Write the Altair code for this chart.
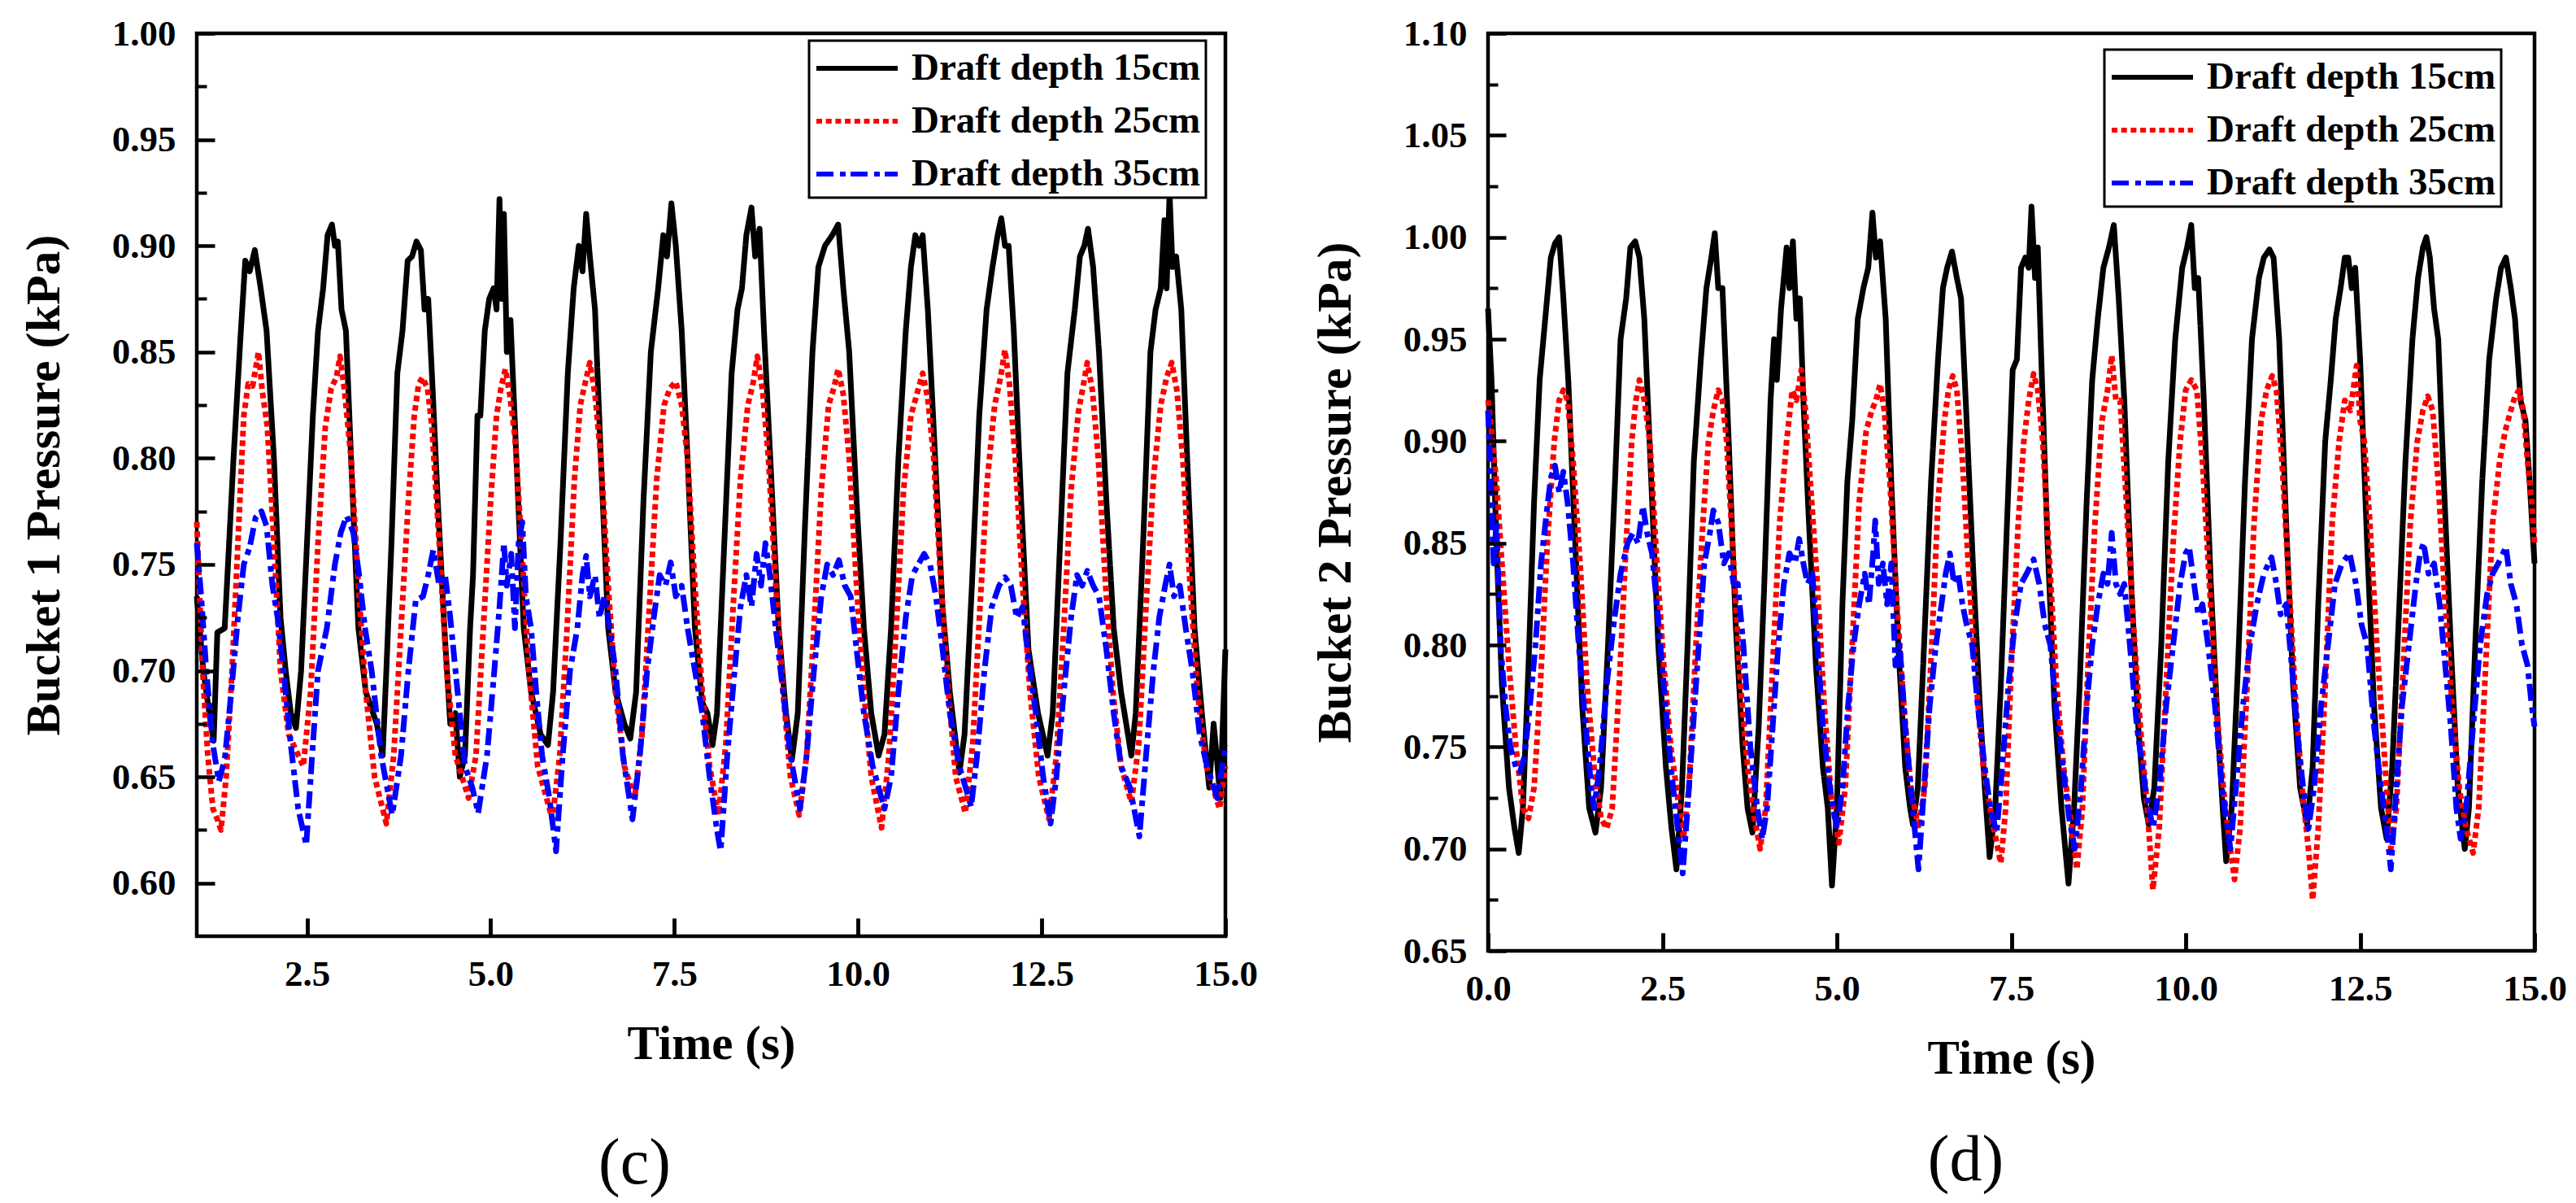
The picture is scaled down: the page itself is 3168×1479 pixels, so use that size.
import pandas as pd
import altair as alt

FONT = "Liberation Serif"
SERIES = ["Draft depth 15cm", "Draft depth 25cm", "Draft depth 35cm"]
COLORS = ["#000000", "#ff0000", "#0000ff"]
DASHES = [[1, 0], [7, 4.7], [21, 8, 7, 6]]

# (c) Bucket 1 pressure, (time s, kPa)
b1_d15 = [
    (1.00, 0.735), (1.09, 0.700), (1.17, 0.680), (1.23, 0.667), (1.28, 0.718), (1.38, 0.720),
    (1.50, 0.800), (1.60, 0.860), (1.66, 0.893), (1.72, 0.888), (1.79, 0.898), (1.87, 0.880),
    (1.95, 0.860), (2.05, 0.800), (2.14, 0.725), (2.21, 0.700), (2.28, 0.680), (2.35, 0.673),
    (2.42, 0.700), (2.50, 0.760), (2.58, 0.820), (2.65, 0.860), (2.72, 0.880), (2.78, 0.905),
    (2.84, 0.910), (2.88, 0.900), (2.92, 0.902), (2.97, 0.870), (3.03, 0.860), (3.10, 0.800),
    (3.20, 0.720), (3.30, 0.690), (3.45, 0.675), (3.53, 0.660),
    (3.58, 0.700), (3.65, 0.760), (3.73, 0.840), (3.80, 0.860), (3.87, 0.893), (3.93, 0.895),
    (3.99, 0.902), (4.05, 0.898), (4.10, 0.870), (4.15, 0.875), (4.20, 0.840), (4.28, 0.780),
    (4.37, 0.720), (4.45, 0.675), (4.52, 0.680), (4.58, 0.650),
    (4.65, 0.660), (4.72, 0.720), (4.76, 0.745), (4.82, 0.820), (4.86, 0.820), (4.92, 0.860),
    (4.98, 0.875), (5.04, 0.880), (5.08, 0.870), (5.12, 0.922), (5.15, 0.875), (5.18, 0.915),
    (5.22, 0.850), (5.27, 0.865), (5.35, 0.800), (5.45, 0.720), (5.55, 0.690), (5.68, 0.670),
    (5.78, 0.665), (5.85, 0.690), (5.95, 0.760), (6.05, 0.840), (6.13, 0.880), (6.20, 0.900),
    (6.25, 0.888), (6.30, 0.915), (6.35, 0.895), (6.42, 0.870), (6.50, 0.800), (6.60, 0.720),
    (6.70, 0.690), (6.82, 0.675), (6.90, 0.668),
    (6.98, 0.690), (7.08, 0.780), (7.18, 0.850), (7.28, 0.880), (7.35, 0.905), (7.40, 0.895),
    (7.46, 0.920), (7.52, 0.900), (7.60, 0.860), (7.68, 0.800), (7.78, 0.720), (7.88, 0.685),
    (7.95, 0.680), (8.02, 0.665),
    (8.08, 0.680), (8.18, 0.760), (8.28, 0.840), (8.36, 0.870), (8.42, 0.880), (8.48, 0.905),
    (8.55, 0.918), (8.60, 0.895), (8.66, 0.908), (8.72, 0.860), (8.82, 0.790), (8.92, 0.720),
    (9.02, 0.680), (9.10, 0.658),
    (9.18, 0.680), (9.28, 0.770), (9.38, 0.850), (9.46, 0.890), (9.55, 0.900), (9.65, 0.905),
    (9.73, 0.910), (9.80, 0.880), (9.88, 0.850), (9.98, 0.780), (10.08, 0.720), (10.18, 0.680),
    (10.28, 0.660),
    (10.36, 0.670), (10.45, 0.720), (10.55, 0.800), (10.65, 0.860), (10.72, 0.890), (10.78, 0.905),
    (10.83, 0.900), (10.88, 0.905), (10.95, 0.870), (11.05, 0.800), (11.15, 0.730), (11.25, 0.690),
    (11.38, 0.652),
    (11.45, 0.670), (11.55, 0.740), (11.65, 0.820), (11.75, 0.870), (11.83, 0.890), (11.90, 0.905),
    (11.95, 0.913), (12.00, 0.900), (12.05, 0.900), (12.12, 0.860), (12.22, 0.780), (12.32, 0.710),
    (12.45, 0.680), (12.58, 0.660),
    (12.65, 0.680), (12.75, 0.760), (12.85, 0.840), (12.95, 0.870), (13.02, 0.895), (13.08, 0.900),
    (13.13, 0.908), (13.20, 0.890), (13.28, 0.850), (13.38, 0.780), (13.48, 0.720), (13.58, 0.690),
    (13.72, 0.660),
    (13.78, 0.680), (13.88, 0.760), (13.98, 0.850), (14.05, 0.870), (14.12, 0.880), (14.17, 0.912),
    (14.20, 0.880), (14.24, 0.925), (14.28, 0.890), (14.33, 0.895), (14.40, 0.870), (14.48, 0.800),
    (14.58, 0.720), (14.68, 0.680), (14.78, 0.645), (14.84, 0.675), (14.88, 0.660), (14.93, 0.640),
    (14.97, 0.680), (15.00, 0.710),
]
b1_d25 = [
    (1.00, 0.770), (1.08, 0.700), (1.15, 0.660), (1.22, 0.635), (1.28, 0.630), (1.33, 0.625),
    (1.40, 0.650), (1.48, 0.700), (1.56, 0.760), (1.64, 0.820), (1.70, 0.835), (1.76, 0.834),
    (1.84, 0.850), (1.89, 0.832), (1.96, 0.815), (2.05, 0.760), (2.14, 0.700), (2.25, 0.670),
    (2.45, 0.655),
    (2.55, 0.690), (2.65, 0.760), (2.75, 0.815), (2.83, 0.833), (2.90, 0.838), (2.95, 0.848),
    (3.01, 0.832), (3.10, 0.800), (3.20, 0.740), (3.30, 0.690), (3.42, 0.650), (3.58, 0.628),
    (3.68, 0.660), (3.78, 0.720), (3.88, 0.780), (3.96, 0.820), (4.02, 0.835), (4.07, 0.838),
    (4.14, 0.833), (4.20, 0.815), (4.30, 0.760), (4.40, 0.700), (4.52, 0.660), (4.70, 0.640),
    (4.80, 0.660), (4.90, 0.720), (5.00, 0.780), (5.08, 0.820), (5.14, 0.833), (5.20, 0.842),
    (5.26, 0.830), (5.33, 0.810), (5.42, 0.760), (5.52, 0.700), (5.64, 0.655), (5.84, 0.630),
    (5.94, 0.660), (6.04, 0.720), (6.14, 0.790), (6.22, 0.825), (6.29, 0.836), (6.35, 0.845),
    (6.42, 0.830), (6.50, 0.800), (6.60, 0.740), (6.70, 0.690), (6.82, 0.655), (6.96, 0.640),
    (7.06, 0.670), (7.16, 0.730), (7.26, 0.790), (7.36, 0.825), (7.44, 0.833), (7.52, 0.836),
    (7.60, 0.825), (7.68, 0.800), (7.78, 0.740), (7.88, 0.690), (7.98, 0.655), (8.10, 0.632),
    (8.20, 0.665), (8.30, 0.730), (8.40, 0.790), (8.50, 0.825), (8.57, 0.835), (8.63, 0.848),
    (8.70, 0.832), (8.78, 0.800), (8.88, 0.740), (8.98, 0.690), (9.08, 0.650), (9.20, 0.632),
    (9.30, 0.660), (9.40, 0.720), (9.50, 0.785), (9.60, 0.825), (9.67, 0.833), (9.73, 0.842),
    (9.80, 0.830), (9.88, 0.800), (9.98, 0.740), (10.08, 0.690), (10.18, 0.650), (10.32, 0.626),
    (10.42, 0.660), (10.52, 0.720), (10.62, 0.785), (10.72, 0.820), (10.80, 0.830), (10.88, 0.840),
    (10.95, 0.828), (11.03, 0.800), (11.13, 0.740), (11.23, 0.690), (11.33, 0.650), (11.46, 0.633),
    (11.56, 0.665), (11.66, 0.730), (11.76, 0.790), (11.86, 0.825), (11.94, 0.838), (12.00, 0.851),
    (12.06, 0.835), (12.14, 0.800), (12.24, 0.740), (12.34, 0.690), (12.46, 0.650), (12.60, 0.630),
    (12.70, 0.660), (12.80, 0.720), (12.90, 0.785), (13.00, 0.822), (13.07, 0.835), (13.12, 0.845),
    (13.19, 0.832), (13.27, 0.800), (13.37, 0.740), (13.47, 0.690), (13.58, 0.655), (13.72, 0.638),
    (13.82, 0.665), (13.92, 0.730), (14.02, 0.790), (14.12, 0.825), (14.20, 0.838), (14.27, 0.845),
    (14.34, 0.832), (14.42, 0.800), (14.52, 0.740), (14.62, 0.690), (14.74, 0.655), (14.92, 0.635),
    (15.00, 0.655),
]
b1_d35 = [
    (1.00, 0.760), (1.06, 0.735), (1.13, 0.700), (1.22, 0.665), (1.30, 0.648), (1.38, 0.658),
    (1.47, 0.690), (1.56, 0.725), (1.64, 0.750), (1.72, 0.758), (1.80, 0.772), (1.88, 0.775),
    (1.95, 0.768), (2.03, 0.740), (2.10, 0.725), (2.18, 0.700), (2.28, 0.665), (2.38, 0.635),
    (2.49, 0.618),
    (2.57, 0.660), (2.65, 0.700), (2.77, 0.720), (2.88, 0.750), (2.96, 0.765), (3.04, 0.773),
    (3.13, 0.765), (3.21, 0.745), (3.29, 0.720), (3.38, 0.700), (3.51, 0.660), (3.66, 0.632),
    (3.78, 0.660), (3.88, 0.700), (3.98, 0.733), (4.08, 0.735), (4.15, 0.745), (4.22, 0.757),
    (4.30, 0.740), (4.38, 0.745), (4.45, 0.725), (4.55, 0.690), (4.65, 0.655), (4.75, 0.645),
    (4.83, 0.633),
    (4.95, 0.660), (5.05, 0.700), (5.12, 0.730), (5.18, 0.760), (5.22, 0.740), (5.28, 0.755),
    (5.33, 0.720), (5.38, 0.760), (5.43, 0.770), (5.48, 0.735), (5.55, 0.720), (5.62, 0.690),
    (5.70, 0.660), (5.80, 0.640), (5.89, 0.615),
    (5.98, 0.660), (6.08, 0.700), (6.18, 0.720), (6.25, 0.745), (6.30, 0.754), (6.35, 0.735),
    (6.42, 0.745), (6.48, 0.725), (6.55, 0.735), (6.62, 0.720), (6.70, 0.700), (6.80, 0.660),
    (6.93, 0.630),
    (7.03, 0.660), (7.13, 0.700), (7.22, 0.725), (7.30, 0.745), (7.38, 0.740), (7.45, 0.751),
    (7.52, 0.735), (7.60, 0.740), (7.68, 0.720), (7.78, 0.700), (7.88, 0.680), (7.98, 0.650),
    (8.08, 0.625), (8.13, 0.615),
    (8.22, 0.660), (8.32, 0.700), (8.40, 0.730), (8.48, 0.745), (8.55, 0.730), (8.62, 0.755),
    (8.68, 0.740), (8.74, 0.760), (8.80, 0.745), (8.88, 0.720), (8.98, 0.690), (9.08, 0.660),
    (9.21, 0.635),
    (9.30, 0.660), (9.40, 0.700), (9.50, 0.735), (9.58, 0.750), (9.66, 0.745), (9.74, 0.752),
    (9.82, 0.740), (9.90, 0.735), (9.98, 0.710), (10.08, 0.680), (10.20, 0.655), (10.36, 0.635),
    (10.45, 0.650), (10.55, 0.690), (10.65, 0.725), (10.74, 0.745), (10.82, 0.750), (10.90, 0.755),
    (10.98, 0.750), (11.06, 0.735), (11.15, 0.710), (11.25, 0.680), (11.38, 0.655), (11.54, 0.636),
    (11.62, 0.660), (11.72, 0.700), (11.82, 0.730), (11.92, 0.740), (12.00, 0.744), (12.08, 0.740),
    (12.16, 0.725), (12.24, 0.730), (12.32, 0.705), (12.42, 0.680), (12.52, 0.650), (12.62, 0.628),
    (12.70, 0.650), (12.80, 0.690), (12.90, 0.725), (12.98, 0.745), (13.05, 0.740), (13.12, 0.747),
    (13.20, 0.740), (13.28, 0.735), (13.38, 0.710), (13.48, 0.680), (13.58, 0.655), (13.70, 0.645),
    (13.83, 0.622),
    (13.92, 0.660), (14.02, 0.700), (14.10, 0.725), (14.18, 0.740), (14.24, 0.750), (14.30, 0.735),
    (14.38, 0.740), (14.46, 0.720), (14.55, 0.700), (14.65, 0.670), (14.75, 0.655), (14.89, 0.640),
    (15.00, 0.665),
]

# (d) Bucket 2 pressure
b2_d15 = [
    (0.00, 0.965), (0.05, 0.930), (0.12, 0.850), (0.20, 0.780), (0.30, 0.730), (0.38, 0.710),
    (0.44, 0.698), (0.50, 0.720), (0.58, 0.790), (0.66, 0.870), (0.74, 0.930), (0.82, 0.960),
    (0.90, 0.990), (0.96, 0.997), (1.02, 1.000), (1.08, 0.970), (1.15, 0.930), (1.25, 0.850),
    (1.35, 0.770), (1.45, 0.720), (1.54, 0.708),
    (1.62, 0.730), (1.72, 0.800), (1.82, 0.880), (1.90, 0.950), (1.98, 0.970), (2.04, 0.995),
    (2.11, 0.998), (2.17, 0.990), (2.24, 0.960), (2.34, 0.880), (2.44, 0.800), (2.55, 0.740),
    (2.63, 0.710), (2.70, 0.690),
    (2.78, 0.730), (2.86, 0.800), (2.95, 0.890), (3.05, 0.940), (3.13, 0.975), (3.20, 0.990),
    (3.25, 1.002), (3.30, 0.975), (3.36, 0.975), (3.45, 0.900), (3.55, 0.810), (3.65, 0.750),
    (3.72, 0.720), (3.79, 0.708),
    (3.88, 0.760), (3.96, 0.830), (4.05, 0.920), (4.10, 0.950), (4.14, 0.930), (4.20, 0.965),
    (4.28, 0.995), (4.32, 0.975), (4.37, 0.998), (4.42, 0.960), (4.47, 0.970), (4.52, 0.920),
    (4.60, 0.860), (4.70, 0.790), (4.80, 0.740), (4.87, 0.720), (4.93, 0.682),
    (5.00, 0.720), (5.08, 0.820), (5.15, 0.880), (5.22, 0.910), (5.30, 0.960), (5.38, 0.975),
    (5.45, 0.985), (5.51, 1.012), (5.56, 0.990), (5.62, 0.998), (5.70, 0.960), (5.78, 0.880),
    (5.88, 0.800), (5.98, 0.740), (6.05, 0.720), (6.09, 0.712),
    (6.16, 0.730), (6.25, 0.800), (6.35, 0.880), (6.45, 0.940), (6.52, 0.975), (6.58, 0.985),
    (6.65, 0.993), (6.72, 0.980), (6.78, 0.970), (6.86, 0.910), (6.95, 0.840), (7.05, 0.770),
    (7.12, 0.730), (7.19, 0.696),
    (7.27, 0.720), (7.35, 0.780), (7.45, 0.870), (7.52, 0.935), (7.58, 0.940), (7.64, 0.985),
    (7.70, 0.990), (7.75, 0.985), (7.79, 1.015), (7.84, 0.980), (7.88, 0.995), (7.94, 0.930),
    (8.02, 0.850), (8.12, 0.770), (8.22, 0.720), (8.32, 0.683),
    (8.40, 0.720), (8.48, 0.780), (8.58, 0.870), (8.66, 0.930), (8.74, 0.960), (8.82, 0.985),
    (8.90, 0.995), (8.97, 1.006), (9.04, 0.970), (9.12, 0.920), (9.22, 0.830), (9.32, 0.760),
    (9.40, 0.725), (9.47, 0.712),
    (9.55, 0.730), (9.65, 0.800), (9.75, 0.890), (9.85, 0.950), (9.95, 0.985), (10.02, 0.995),
    (10.08, 1.006), (10.13, 0.975), (10.18, 0.980), (10.26, 0.920), (10.36, 0.830), (10.46, 0.760),
    (10.53, 0.720), (10.58, 0.694),
    (10.66, 0.720), (10.75, 0.790), (10.85, 0.880), (10.95, 0.950), (11.05, 0.980), (11.12, 0.990),
    (11.20, 0.994), (11.26, 0.990), (11.34, 0.950), (11.44, 0.860), (11.54, 0.780), (11.64, 0.730),
    (11.74, 0.712),
    (11.82, 0.740), (11.90, 0.820), (12.00, 0.900), (12.08, 0.930), (12.15, 0.960), (12.22, 0.975),
    (12.28, 0.990), (12.33, 0.990), (12.38, 0.975), (12.43, 0.985), (12.50, 0.940), (12.60, 0.850),
    (12.70, 0.770), (12.80, 0.720), (12.88, 0.705),
    (12.96, 0.740), (13.05, 0.810), (13.15, 0.890), (13.25, 0.950), (13.33, 0.980), (13.40, 0.995),
    (13.45, 1.000), (13.50, 0.990), (13.56, 0.965), (13.62, 0.950), (13.70, 0.880), (13.80, 0.800),
    (13.90, 0.730), (14.00, 0.700),
    (14.06, 0.720), (14.15, 0.800), (14.25, 0.880), (14.35, 0.940), (14.45, 0.970), (14.52, 0.985),
    (14.59, 0.990), (14.66, 0.975), (14.72, 0.960), (14.80, 0.920), (14.87, 0.910), (14.93, 0.880),
    (15.00, 0.840),
]
b2_d25 = [
    (0.00, 0.920), (0.05, 0.905), (0.12, 0.880), (0.20, 0.840), (0.30, 0.790), (0.40, 0.750),
    (0.50, 0.720), (0.58, 0.715), (0.66, 0.730), (0.75, 0.780), (0.85, 0.850), (0.95, 0.900),
    (1.02, 0.920), (1.08, 0.925), (1.14, 0.920), (1.22, 0.890), (1.32, 0.840), (1.42, 0.780),
    (1.52, 0.740), (1.62, 0.715), (1.70, 0.710),
    (1.78, 0.720), (1.88, 0.780), (1.98, 0.850), (2.06, 0.900), (2.12, 0.920), (2.17, 0.930),
    (2.24, 0.920), (2.32, 0.900), (2.42, 0.840), (2.52, 0.790), (2.62, 0.750), (2.72, 0.725),
    (2.80, 0.705),
    (2.88, 0.730), (2.98, 0.800), (3.08, 0.860), (3.16, 0.900), (3.23, 0.915), (3.30, 0.925),
    (3.36, 0.920), (3.42, 0.900), (3.52, 0.840), (3.62, 0.780), (3.72, 0.740), (3.82, 0.715),
    (3.90, 0.700),
    (3.98, 0.720), (4.08, 0.790), (4.18, 0.860), (4.28, 0.900), (4.36, 0.925), (4.42, 0.920),
    (4.49, 0.935), (4.55, 0.915), (4.62, 0.880), (4.72, 0.830), (4.82, 0.770), (4.92, 0.725),
    (5.03, 0.703),
    (5.12, 0.730), (5.22, 0.800), (5.32, 0.870), (5.42, 0.905), (5.50, 0.915), (5.56, 0.920),
    (5.62, 0.928), (5.68, 0.915), (5.76, 0.880), (5.86, 0.820), (5.96, 0.770), (6.06, 0.730),
    (6.17, 0.710),
    (6.26, 0.730), (6.36, 0.800), (6.45, 0.870), (6.54, 0.910), (6.60, 0.925), (6.66, 0.932),
    (6.72, 0.925), (6.80, 0.890), (6.90, 0.830), (7.00, 0.780), (7.10, 0.740), (7.22, 0.715),
    (7.35, 0.693),
    (7.42, 0.720), (7.50, 0.790), (7.60, 0.860), (7.68, 0.900), (7.75, 0.920), (7.82, 0.933),
    (7.88, 0.925), (7.95, 0.900), (8.05, 0.840), (8.15, 0.780), (8.25, 0.740), (8.35, 0.715),
    (8.44, 0.690),
    (8.52, 0.720), (8.60, 0.790), (8.70, 0.860), (8.80, 0.910), (8.88, 0.925), (8.94, 0.942),
    (9.00, 0.920), (9.06, 0.920), (9.15, 0.870), (9.25, 0.810), (9.35, 0.760), (9.45, 0.720),
    (9.53, 0.680),
    (9.62, 0.710), (9.72, 0.780), (9.82, 0.850), (9.92, 0.900), (10.00, 0.925), (10.08, 0.930),
    (10.16, 0.925), (10.24, 0.890), (10.34, 0.830), (10.44, 0.770), (10.54, 0.730), (10.62, 0.705),
    (10.70, 0.685),
    (10.78, 0.710), (10.88, 0.780), (10.98, 0.860), (11.08, 0.910), (11.16, 0.925), (11.24, 0.932),
    (11.30, 0.925), (11.38, 0.890), (11.48, 0.830), (11.58, 0.770), (11.68, 0.725), (11.76, 0.700),
    (11.82, 0.675),
    (11.90, 0.710), (12.00, 0.780), (12.10, 0.860), (12.20, 0.900), (12.28, 0.920), (12.36, 0.915),
    (12.42, 0.930), (12.45, 0.937), (12.50, 0.910), (12.56, 0.900), (12.64, 0.860), (12.74, 0.800),
    (12.84, 0.750), (12.94, 0.700),
    (13.02, 0.720), (13.12, 0.790), (13.22, 0.860), (13.32, 0.900), (13.40, 0.915), (13.47, 0.922),
    (13.54, 0.915), (13.62, 0.880), (13.72, 0.820), (13.82, 0.770), (13.92, 0.730), (14.02, 0.710),
    (14.12, 0.698),
    (14.20, 0.720), (14.30, 0.790), (14.40, 0.860), (14.50, 0.890), (14.58, 0.905), (14.66, 0.915),
    (14.72, 0.922), (14.78, 0.925), (14.84, 0.915), (14.90, 0.890), (14.96, 0.870), (15.00, 0.850),
]
b2_d35 = [
    (0.00, 0.915), (0.04, 0.880), (0.08, 0.840), (0.12, 0.860), (0.18, 0.800), (0.25, 0.770),
    (0.32, 0.750), (0.40, 0.740), (0.46, 0.738), (0.52, 0.745), (0.60, 0.770), (0.68, 0.800),
    (0.76, 0.840), (0.84, 0.865), (0.90, 0.882), (0.96, 0.888), (1.02, 0.875), (1.08, 0.885),
    (1.14, 0.870), (1.22, 0.840), (1.30, 0.800), (1.40, 0.760), (1.48, 0.730), (1.52, 0.720),
    (1.60, 0.740), (1.70, 0.780), (1.80, 0.810), (1.90, 0.835), (2.00, 0.850), (2.08, 0.855),
    (2.15, 0.850), (2.22, 0.868), (2.28, 0.855), (2.35, 0.845), (2.42, 0.820), (2.52, 0.780),
    (2.62, 0.740), (2.72, 0.710), (2.79, 0.688),
    (2.86, 0.720), (2.94, 0.760), (3.02, 0.800), (3.10, 0.840), (3.18, 0.855), (3.23, 0.866),
    (3.30, 0.860), (3.38, 0.840), (3.45, 0.845), (3.52, 0.830), (3.58, 0.830), (3.66, 0.800),
    (3.76, 0.750), (3.86, 0.720), (3.93, 0.705),
    (4.00, 0.720), (4.08, 0.760), (4.16, 0.800), (4.24, 0.830), (4.32, 0.845), (4.40, 0.840),
    (4.46, 0.852), (4.52, 0.840), (4.58, 0.830), (4.65, 0.835), (4.72, 0.800), (4.80, 0.760),
    (4.90, 0.730), (5.00, 0.710),
    (5.08, 0.730), (5.16, 0.770), (5.24, 0.800), (5.32, 0.820), (5.40, 0.835), (5.46, 0.820),
    (5.52, 0.845), (5.55, 0.861), (5.60, 0.830), (5.66, 0.840), (5.72, 0.820), (5.78, 0.840),
    (5.84, 0.790), (5.90, 0.800), (5.98, 0.760), (6.06, 0.730), (6.17, 0.690),
    (6.25, 0.730), (6.33, 0.770), (6.42, 0.800), (6.50, 0.820), (6.56, 0.835), (6.62, 0.845),
    (6.68, 0.830), (6.74, 0.835), (6.80, 0.820), (6.86, 0.810), (6.94, 0.800), (7.02, 0.770),
    (7.12, 0.740), (7.20, 0.720), (7.29, 0.708),
    (7.37, 0.740), (7.46, 0.780), (7.55, 0.810), (7.64, 0.830), (7.72, 0.835), (7.82, 0.842),
    (7.90, 0.830), (7.98, 0.810), (8.06, 0.800), (8.14, 0.770), (8.24, 0.740), (8.33, 0.715),
    (8.41, 0.700),
    (8.50, 0.730), (8.58, 0.770), (8.66, 0.800), (8.74, 0.820), (8.82, 0.835), (8.88, 0.830),
    (8.94, 0.855), (9.00, 0.830), (9.06, 0.825), (9.12, 0.830), (9.20, 0.800), (9.30, 0.760),
    (9.42, 0.730), (9.53, 0.710),
    (9.62, 0.730), (9.72, 0.770), (9.82, 0.800), (9.92, 0.830), (10.00, 0.845), (10.05, 0.848),
    (10.12, 0.830), (10.18, 0.815), (10.24, 0.820), (10.32, 0.800), (10.42, 0.770), (10.52, 0.730),
    (10.64, 0.700),
    (10.72, 0.730), (10.82, 0.770), (10.92, 0.800), (11.02, 0.820), (11.12, 0.835), (11.23, 0.843),
    (11.30, 0.830), (11.36, 0.815), (11.44, 0.820), (11.52, 0.790), (11.62, 0.750), (11.70, 0.725),
    (11.76, 0.710),
    (11.84, 0.730), (11.94, 0.770), (12.04, 0.800), (12.14, 0.830), (12.24, 0.840), (12.35, 0.845),
    (12.44, 0.830), (12.52, 0.810), (12.60, 0.800), (12.70, 0.760), (12.80, 0.730), (12.88, 0.710),
    (12.94, 0.690),
    (13.02, 0.730), (13.10, 0.770), (13.20, 0.800), (13.30, 0.830), (13.36, 0.845), (13.41, 0.850),
    (13.48, 0.835), (13.56, 0.840), (13.64, 0.820), (13.72, 0.790), (13.80, 0.760), (13.88, 0.720),
    (13.94, 0.705),
    (14.02, 0.720), (14.12, 0.760), (14.22, 0.800), (14.32, 0.825), (14.40, 0.835), (14.48, 0.840),
    (14.59, 0.848), (14.66, 0.830), (14.74, 0.820), (14.82, 0.800), (14.90, 0.790), (14.96, 0.770),
    (15.00, 0.760),
]

c_xticks = [2.5, 5.0, 7.5, 10.0, 12.5, 15.0]
c_yticks = [0.60, 0.65, 0.70, 0.75, 0.80, 0.85, 0.90, 0.95, 1.00]
c_yminor = [0.625, 0.675, 0.725, 0.775, 0.825, 0.875, 0.925, 0.975]
d_xticks = [0.0, 2.5, 5.0, 7.5, 10.0, 12.5, 15.0]
d_yticks = [0.65, 0.70, 0.75, 0.80, 0.85, 0.90, 0.95, 1.00, 1.05, 1.10]
d_yminor = [0.675, 0.725, 0.775, 0.825, 0.875, 0.925, 0.975, 1.025, 1.075]


def to_frame(series_lists):
    rows = []
    for name, pts in zip(SERIES, series_lists):
        for t, p in pts:
            rows.append({"t": t, "p": p, "series": name})
    return pd.DataFrame(rows)


def tick_axis(orient, values, size, width):
    # inward ticks: an extra axis pushed into the plot by its own tick length
    return alt.Axis(orient=orient, values=values, offset=-size, tickSize=size,
                    tickWidth=width, tickColor="black", labels=False, domain=False,
                    grid=False, title="", zindex=2)


def panel(df, xdom, ydom, xticks, yticks, yminor, ytitle, w, h,
          leg_x, leg_y, tag, tag_dx, tag_offset):
    xs = alt.Scale(domain=xdom, nice=False, zero=False)
    ys = alt.Scale(domain=ydom, nice=False, zero=False)

    x_main = alt.Axis(orient="bottom", values=xticks, format=".1f", title="Time (s)",
                      domain=False, ticks=False, tickSize=0, grid=False, labelFlush=False,
                      labelFont=FONT, labelFontSize=45, labelFontWeight="bold",
                      labelColor="black", labelPadding=24,
                      titleFont=FONT, titleFontSize=59, titleFontWeight="bold",
                      titleColor="black", titlePadding=34)
    y_main = alt.Axis(orient="left", values=yticks, format=".2f", title=ytitle,
                      domain=False, ticks=False, tickSize=0, grid=False, labelFlush=False,
                      labelFont=FONT, labelFontSize=45, labelFontWeight="bold",
                      labelColor="black", labelPadding=26,
                      titleFont=FONT, titleFontSize=60, titleFontWeight="bold",
                      titleColor="black", titlePadding=52)

    # legend line: path runs from -r to 3r, so a small size still gives a long sample
    leg = alt.Legend(title=None, orient="none", legendX=leg_x, legendY=leg_y,
                     direction="vertical", symbolType="M-1,0H3", symbolSize=2500,
                     symbolStrokeWidth=6, labelFont=FONT, labelFontSize=47,
                     labelFontWeight="bold", labelColor="black", labelLimit=600,
                     labelOffset=64, rowPadding=14, padding=6, strokeColor="black",
                     fillColor="white")

    lines = alt.Chart(df).mark_line(strokeWidth=7, strokeJoin="round").encode(
        x=alt.X("t:Q", scale=xs, axis=x_main),
        y=alt.Y("p:Q", scale=ys, axis=y_main),
        color=alt.Color("series:N", scale=alt.Scale(domain=SERIES, range=COLORS), legend=leg),
        strokeDash=alt.StrokeDash("series:N", scale=alt.Scale(domain=SERIES, range=DASHES),
                                  legend=leg),
    )
    major = alt.Chart(df).mark_point(opacity=0).encode(
        x=alt.X("t:Q", scale=xs, axis=tick_axis("bottom", xticks, 22, 4.5)),
        y=alt.Y("p:Q", scale=ys, axis=tick_axis("left", yticks, 22, 4.5)),
    )
    minor = alt.Chart(df).mark_point(opacity=0).encode(
        x=alt.X("t:Q", scale=xs, axis=tick_axis("bottom", xticks, 22, 4.5)),
        y=alt.Y("p:Q", scale=ys, axis=tick_axis("left", yminor, 12, 4)),
    )
    return (
        alt.layer(lines, major, minor)
        .resolve_axis(x="independent", y="independent")
        .properties(
            width=w, height=h,
            title=alt.TitleParams(tag, orient="bottom", frame="group", anchor="middle",
                                  font=FONT, fontSize=80, fontWeight="normal",
                                  color="black", offset=tag_offset, dx=tag_dx),
        )
    )


left = panel(to_frame([b1_d15, b1_d25, b1_d35]), [1, 15], [0.575, 1.0],
             c_xticks, c_yticks, c_yminor, "Bucket 1 Pressure (kPa)", 1265, 1110,
             753, 9, "(c)", -94, 79)
right = panel(to_frame([b2_d15, b2_d25, b2_d35]), [0, 15], [0.65, 1.10],
              d_xticks, d_yticks, d_yminor, "Bucket 2 Pressure (kPa)", 1287, 1128,
              758, 20, "(d)", -56, 57)

chart = (
    alt.hconcat(left, right, spacing=323, bounds="flush")
    .resolve_scale(x="independent", y="independent", color="independent",
                   strokeDash="independent")
    .resolve_legend(color="independent", strokeDash="independent")
    .properties(padding={"left": 14, "top": 8, "right": 0, "bottom": 0},
                background="white")
    .configure(view=alt.ViewConfig(stroke="black", strokeWidth=4.5),
               legend=alt.LegendConfig(strokeWidth=3))
)

chart.save("out.html", embed_options={"renderer": "svg", "actions": False})
